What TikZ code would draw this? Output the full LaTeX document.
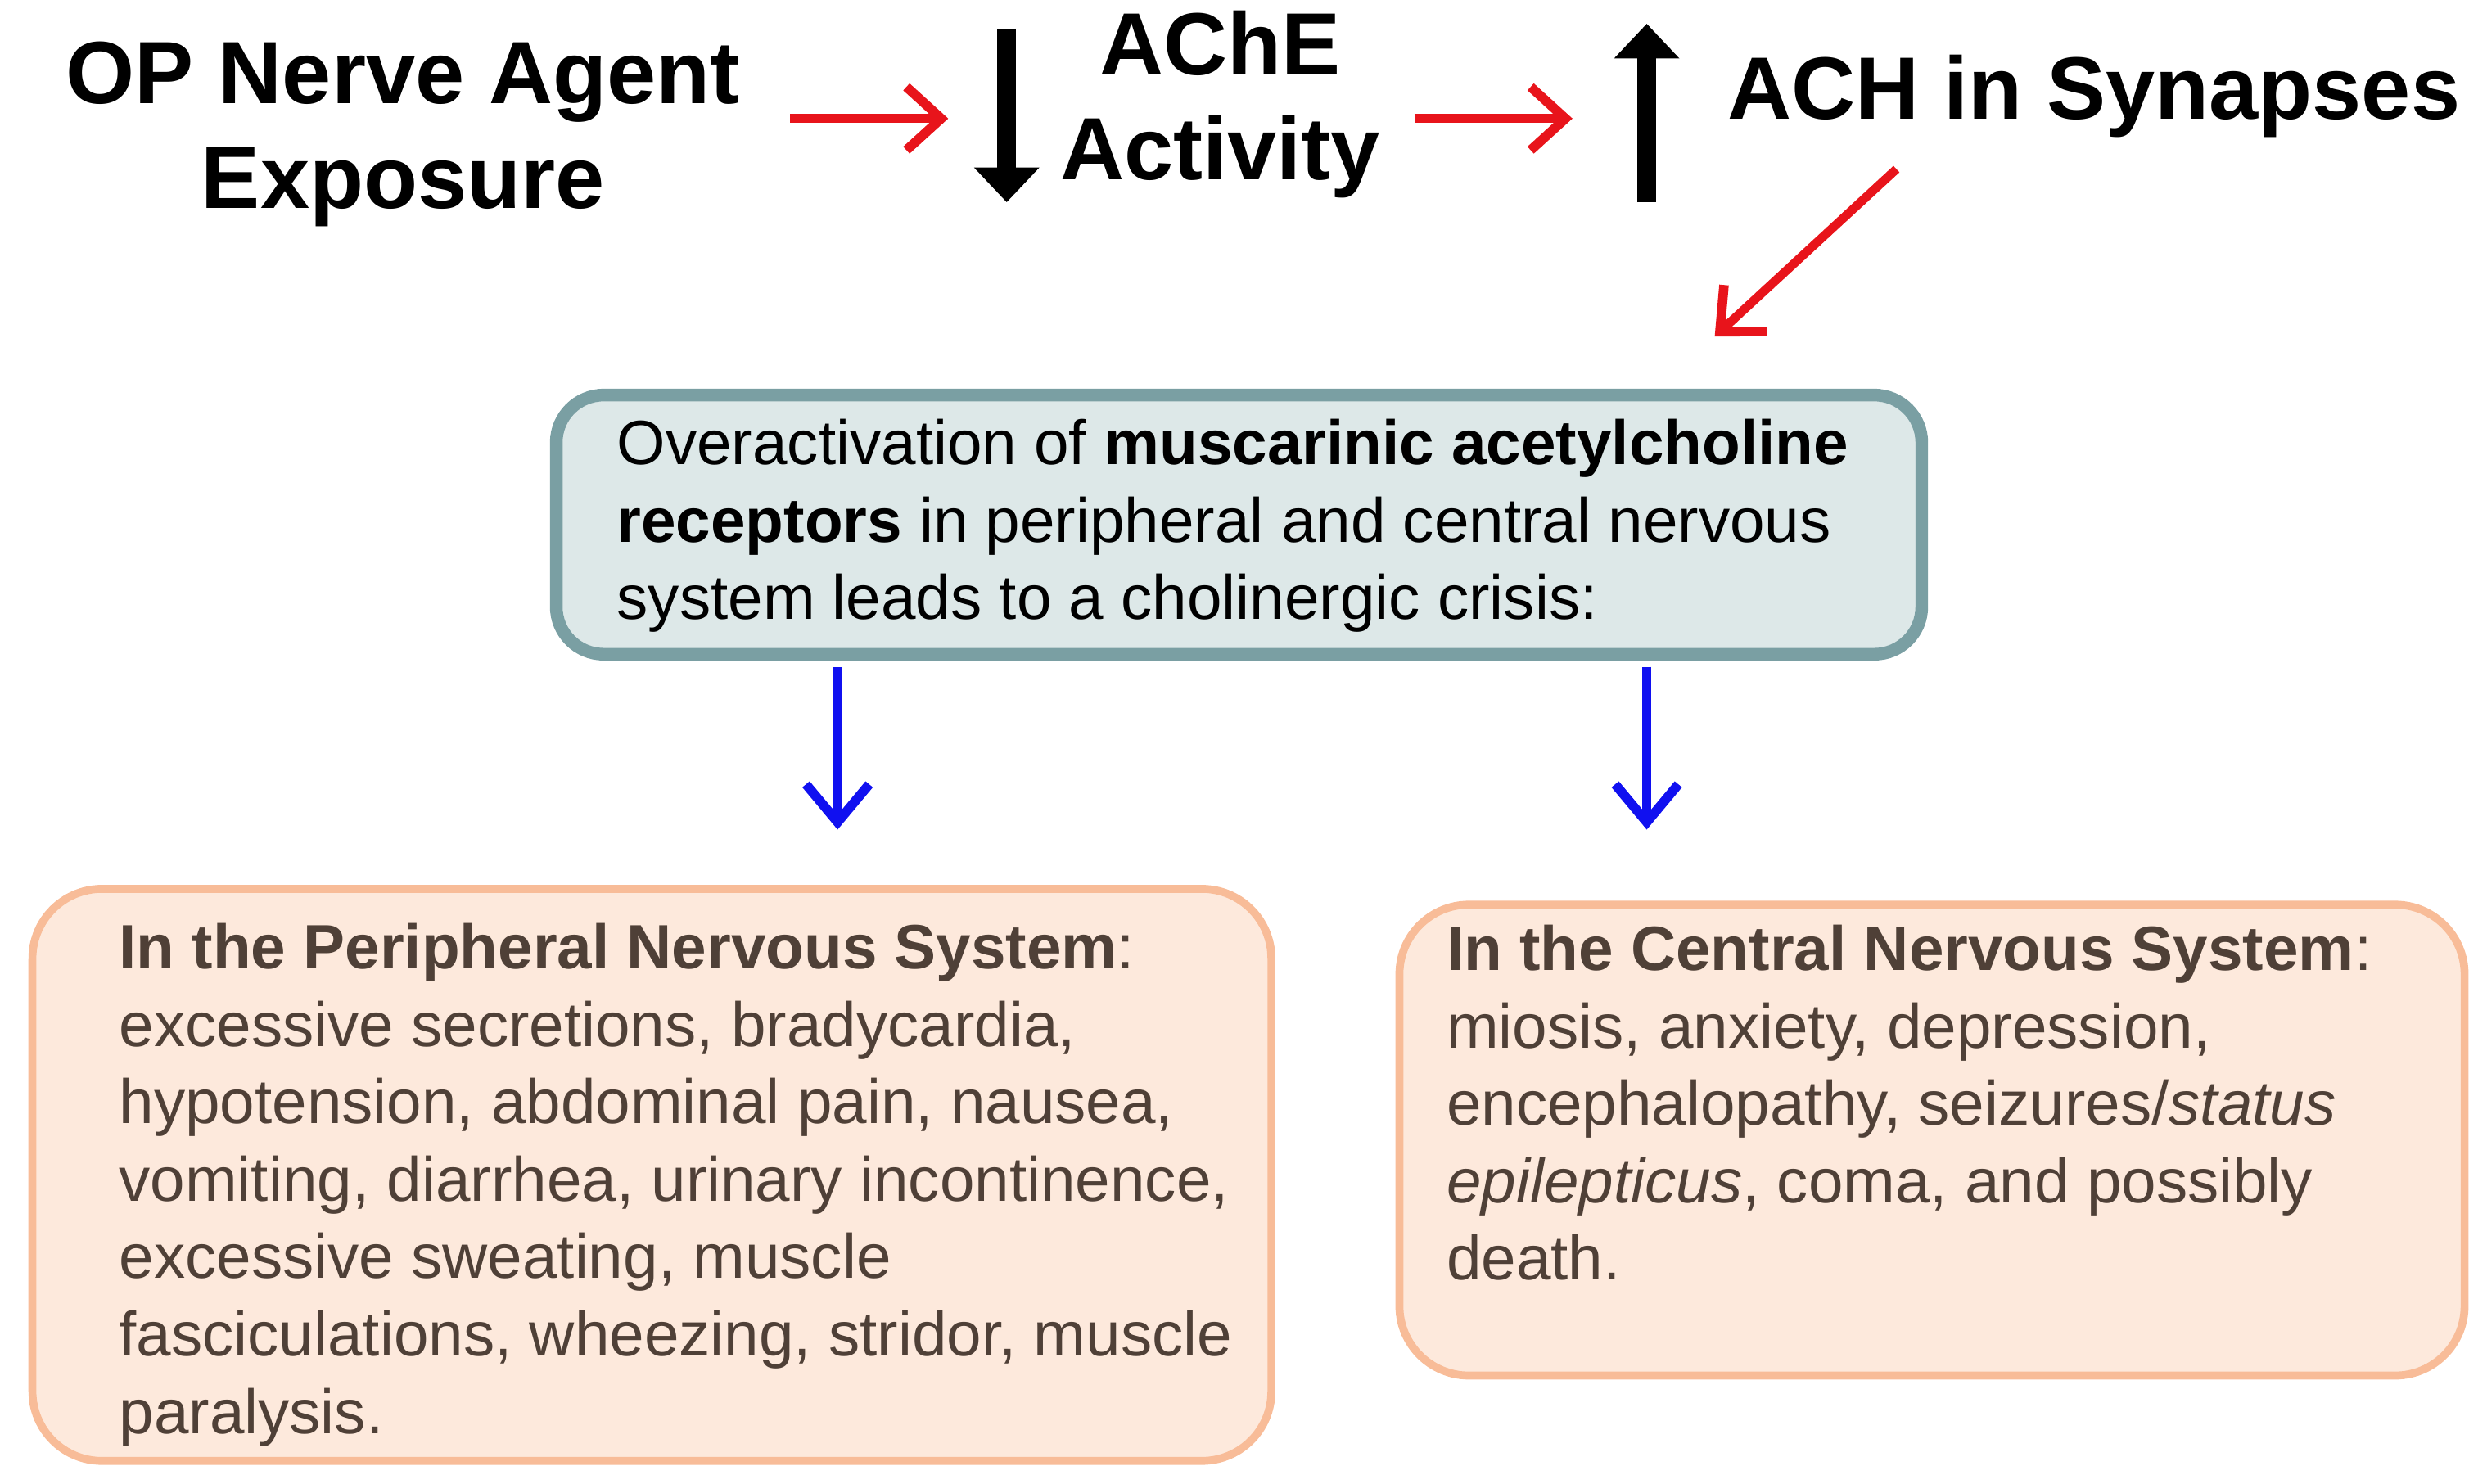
\documentclass[tikz,border=0pt]{standalone}
\usepackage{fontspec}
\setmainfont{Liberation Sans}
\usetikzlibrary{arrows.meta}
\definecolor{redarr}{HTML}{E8141B}
\definecolor{bluearr}{HTML}{1010F0}
\definecolor{topfill}{HTML}{DDE8E8}
\definecolor{topdraw}{HTML}{7A9FA3}
\definecolor{sidefill}{HTML}{FDE9DC}
\definecolor{sidedraw}{HTML}{F8BC98}
\definecolor{sidetext}{HTML}{4F4037}
\tikzset{
  title/.style={font=\fontsize{28}{33}\selectfont\bfseries, align=center},
  redarrow/.style={draw=redarr, line width=2.8pt, -{Straight Barb[length=11pt,width=20pt,line width=3pt]}},
  bluearrow/.style={draw=bluearr, line width=2.8pt, -{Straight Barb[length=12pt,width=20pt,line width=3pt]}},
  blackarrow/.style={line width=6pt, -{Triangle[length=11pt,width=20pt]}},
  bodytext/.style={anchor=north west, align=left, inner sep=0pt, font=\fontsize{19.8}{24.5}\selectfont},
  crisisbox/.style={draw=topdraw, fill=topfill, line width=4pt, rounded corners=15pt,
    anchor=north west, inner sep=0pt},
  sidebox/.style={draw=sidedraw, fill=sidefill, line width=2.5pt, rounded corners=22pt,
    anchor=north west, inner sep=0pt}
}
\begin{document}
\begin{tikzpicture}[x=0.5pt,y=-0.5pt]
\useasboundingbox (0,0) rectangle (1568,939);

% first row
\node[title] (op) at (255,85) {OP Nerve Agent\\Exposure};
\node[title] (ache) at (772,66) {AChE\\Activity};
\node[title, anchor=west] (ach) at (1086,61) {ACH in Synapses};
\coordinate (dn1) at (637,18);
\coordinate (dn2) at (637,128);
\coordinate (up1) at (1042,128);
\coordinate (up2) at (1042,15);
\draw[blackarrow] (dn1) -- (dn2);
\draw[blackarrow] (up1) -- (up2);
\coordinate (r1a) at (500,75);
\coordinate (r1b) at (600,75);
\coordinate (r2a) at (895,75);
\coordinate (r2b) at (995,75);
\draw[redarrow] (r1a) -- (r1b);
\draw[redarrow] (r2a) -- (r2b);

% boxes
\node[crisisbox, minimum width=432pt, minimum height=82pt] (crisis) at (348,246) {};
\node[bodytext] (crisistxt) at (390,265)
  {Overactivation of \textbf{muscarinic acetylcholine}\\
   \textbf{receptors} in peripheral and central nervous\\
   system leads to a cholinergic crisis:};
\node[sidebox, minimum width=392pt, minimum height=181pt] (pns) at (18,560) {};
\node[bodytext, text=sidetext] (pnstxt) at (75,584)
  {\textbf{In the Peripheral Nervous System}:\\
   excessive secretions, bradycardia,\\
   hypotension, abdominal pain, nausea,\\
   vomiting, diarrhea, urinary incontinence,\\
   excessive sweating, muscle\\
   fasciculations, wheezing, stridor, muscle\\
   paralysis.};
\node[sidebox, minimum width=337pt, minimum height=149pt] (cns) at (883,570) {};
\node[bodytext, text=sidetext] (cnstxt) at (915,585)
  {\textbf{In the Central Nervous System}:\\
   miosis, anxiety, depression,\\
   encephalopathy, seizures/\textit{status}\\
   \textit{epilepticus}, coma, and possibly\\
   death.};

% connectors
\coordinate (d1) at (1200,107);
\coordinate (d2) at (1085,213);
\draw[redarrow] (d1) -- (d2);
\coordinate (b1a) at (530,422);
\coordinate (b1b) at (530,525);
\coordinate (b2a) at (1042,422);
\coordinate (b2b) at (1042,525);
\draw[bluearrow] (b1a) -- (b1b);
\draw[bluearrow] (b2a) -- (b2b);
\end{tikzpicture}
\end{document}
